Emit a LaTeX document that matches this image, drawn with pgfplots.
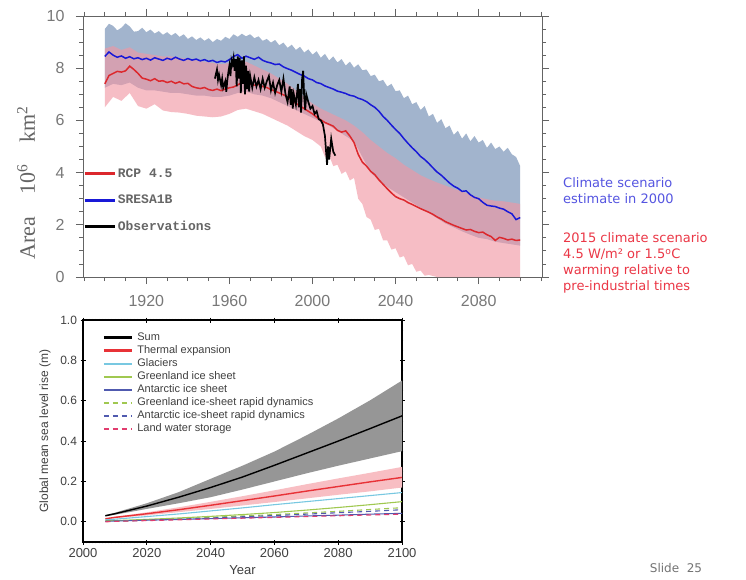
\documentclass[border=0pt]{standalone}
\usepackage{fontspec}
\setmainfont{Liberation Sans}
\newfontfamily\seriffont{Liberation Serif}
\newfontfamily\monofont{Liberation Mono}
\newfontfamily\dejavu{DejaVu Sans}
\usepackage{pgfplots}
\pgfplotsset{compat=1.18}
\usepackage{pgfplotstable}

\definecolor{sresband}{RGB}{162,180,205}
\definecolor{rcpband}{RGB}{242,150,163}
\definecolor{sresline}{RGB}{25,25,215}
\definecolor{rcpline}{RGB}{220,40,45}
\definecolor{axgray}{RGB}{100,100,100}
\definecolor{lblgray}{RGB}{120,120,120}
\definecolor{scnblue}{RGB}{85,85,225}
\definecolor{scnred}{RGB}{235,55,70}
\definecolor{sumband}{RGB}{150,150,150}
\definecolor{thline}{RGB}{232,50,55}
\definecolor{thband}{RGB}{248,190,195}
\definecolor{glc}{RGB}{120,200,225}
\definecolor{grc}{RGB}{160,200,80}
\definecolor{anc}{RGB}{80,90,175}
\definecolor{lwc}{RGB}{225,60,110}

% sea ice area, model means
\pgfplotstableread{
year sres rcp
1900 8.45 7.40
1902 8.62 7.72
1904 8.50 7.80
1906 8.42 7.88
1908 8.47 7.85
1910 8.38 7.90
1912 8.44 8.08
1914 8.36 7.95
1916 8.40 7.80
1918 8.33 7.62
1920 8.38 7.58
1922 8.31 7.52
1924 8.40 7.60
1926 8.35 7.50
1928 8.30 7.52
1930 8.38 7.45
1932 8.33 7.50
1934 8.42 7.42
1936 8.35 7.48
1938 8.30 7.40
1940 8.37 7.42
1942 8.31 7.30
1944 8.35 7.25
1946 8.28 7.22
1948 8.33 7.26
1950 8.26 7.18
1952 8.30 7.15
1954 8.22 7.20
1956 8.27 7.14
1958 8.24 7.20
1960 8.33 7.25
1962 8.45 7.28
1964 8.52 7.36
1966 8.38 7.45
1968 8.46 7.50
1970 8.40 7.40
1972 8.34 7.35
1974 8.42 7.38
1976 8.30 7.30
1978 8.24 7.26
1980 8.20 7.18
1982 8.14 7.12
1984 8.16 7.05
1986 8.05 6.98
1988 7.98 6.90
1990 7.92 6.78
1992 7.84 6.65
1994 7.76 6.55
1996 7.70 6.45
1998 7.60 6.35
2000 7.55 6.25
2002 7.45 6.12
2004 7.41 6.02
2006 7.32 5.92
2008 7.26 5.85
2010 7.20 5.78
2012 7.12 5.62
2014 7.08 5.55
2016 7.03 5.60
2018 6.96 5.40
2020 6.93 5.15
2022 6.85 4.70
2024 6.80 4.40
2026 6.72 4.25
2028 6.60 4.05
2030 6.50 3.92
2032 6.35 3.72
2034 6.15 3.55
2036 6.00 3.38
2038 5.82 3.22
2040 5.65 3.08
2042 5.50 3.00
2044 5.30 2.95
2046 5.12 2.85
2048 4.95 2.78
2050 4.80 2.70
2052 4.62 2.62
2054 4.50 2.55
2056 4.35 2.48
2058 4.18 2.40
2060 4.02 2.30
2062 3.90 2.22
2064 3.75 2.12
2066 3.60 2.05
2068 3.48 1.98
2070 3.40 1.92
2072 3.28 1.86
2074 3.30 1.80
2076 3.15 1.82
2078 3.05 1.75
2080 3.00 1.70
2082 2.86 1.72
2084 2.75 1.62
2086 2.72 1.55
2088 2.70 1.40
2090 2.64 1.52
2092 2.60 1.48
2094 2.50 1.42
2096 2.42 1.45
2098 2.20 1.40
2100 2.28 1.42
}\icelines

% SRES A1B spread: upper edge forward, lower edge back
\pgfplotstableread{
x y
1900 9.50
1902 9.70
1904 9.62
1906 9.45
1908 9.55
1910 9.72
1912 9.60
1914 9.40
1916 9.42
1918 9.55
1920 9.38
1922 9.48
1924 9.33
1926 9.42
1928 9.28
1930 9.38
1932 9.25
1934 9.35
1936 9.20
1938 9.30
1940 9.12
1942 9.22
1944 9.08
1946 9.18
1948 9.05
1950 9.15
1952 9.00
1954 9.12
1956 9.05
1958 9.20
1960 9.12
1962 9.30
1964 9.20
1966 9.32
1968 9.22
1970 9.30
1972 9.15
1974 9.22
1976 9.05
1978 9.12
1980 8.98
1982 9.08
1984 8.88
1986 8.98
1988 8.78
1990 8.90
1992 8.70
1994 8.82
1996 8.60
1998 8.72
2000 8.52
2002 8.65
2004 8.40
2006 8.55
2008 8.30
2010 8.45
2012 8.22
2014 8.35
2016 8.10
2018 8.25
2020 8.02
2022 8.15
2024 7.92
2026 7.95
2028 7.70
2030 7.75
2032 7.50
2034 7.55
2036 7.30
2038 7.40
2040 7.12
2042 7.15
2044 6.85
2046 6.95
2048 6.62
2050 6.70
2052 6.40
2054 6.55
2056 6.15
2058 6.25
2060 5.90
2062 6.05
2064 5.70
2066 5.80
2068 5.45
2070 5.60
2072 5.30
2074 5.50
2076 5.20
2078 5.40
2080 5.15
2082 5.25
2084 4.95
2086 5.15
2088 4.90
2090 5.00
2092 4.80
2094 4.95
2096 4.70
2098 4.60
2100 4.25
2100 1.20
2096 1.25
2092 1.30
2088 1.35
2084 1.45
2080 1.50
2076 1.62
2072 1.75
2068 1.90
2064 2.05
2060 2.25
2056 2.45
2052 2.65
2048 2.85
2044 3.05
2040 3.25
2036 3.45
2032 3.70
2028 4.00
2024 4.60
2020 5.20
2016 5.40
2012 5.60
2008 5.80
2004 5.95
2000 6.10
1996 6.25
1992 6.40
1988 6.55
1984 6.70
1980 6.85
1976 6.95
1972 7.00
1968 7.10
1964 7.05
1960 6.95
1956 6.90
1952 6.90
1948 6.95
1944 6.95
1940 7.00
1936 7.05
1932 7.05
1928 7.10
1924 7.15
1920 7.15
1916 7.25
1912 7.45
1908 7.35
1904 7.40
1900 7.25
}\sresspread

% RCP 4.5 spread
\pgfplotstableread{
x y
1900 8.75
1904 8.85
1908 8.70
1912 8.80
1916 8.60
1920 8.55
1924 8.50
1928 8.45
1932 8.45
1936 8.40
1940 8.35
1944 8.30
1948 8.25
1952 8.20
1956 8.15
1960 8.20
1964 8.25
1968 8.25
1972 8.10
1976 7.95
1980 7.80
1984 7.60
1988 7.40
1992 7.15
1996 6.90
2000 6.65
2004 6.45
2008 6.30
2012 6.15
2016 6.00
2020 5.80
2024 5.55
2028 5.25
2032 5.00
2036 4.75
2040 4.55
2044 4.30
2048 4.10
2052 3.90
2056 3.75
2060 3.62
2064 3.50
2068 3.38
2072 3.28
2076 3.15
2080 3.05
2084 2.98
2088 2.92
2092 2.90
2096 2.85
2100 2.80
2100 0.00
2060 0.00
2056 0.08
2054 0.05
2052 0.25
2050 0.20
2048 0.50
2046 0.45
2044 0.80
2042 0.75
2040 1.10
2038 1.05
2036 1.40
2034 1.40
2032 1.85
2030 1.80
2028 2.20
2026 2.30
2024 2.80
2022 3.00
2020 3.80
2018 3.70
2016 4.05
2014 3.95
2012 4.30
2010 4.25
2008 4.65
2006 4.60
2004 5.00
2000 5.25
1996 5.40
1992 5.60
1988 5.80
1984 5.95
1980 6.10
1976 6.25
1972 6.35
1968 6.45
1964 6.40
1960 6.25
1956 6.15
1952 6.12
1948 6.15
1944 6.18
1940 6.25
1936 6.30
1932 6.32
1928 6.38
1924 6.62
1920 6.45
1916 6.55
1912 7.05
1908 6.75
1904 6.90
1900 6.50
}\rcpspread

\pgfplotstableread{
year obs
1953.0 7.60
1954.0 7.95
1954.5 7.55
1955.0 7.75
1956.0 7.35
1956.5 7.60
1957.0 7.25
1958.0 7.50
1958.5 7.10
1959.0 7.55
1959.5 7.85
1960.0 8.10
1960.5 7.70
1961.0 8.30
1961.5 8.15
1962.0 8.40
1962.5 7.90
1963.0 8.35
1963.5 7.30
1964.0 8.45
1964.5 7.60
1965.0 8.40
1965.5 7.05
1966.0 8.30
1966.5 7.40
1967.0 8.45
1967.5 7.00
1968.0 8.10
1968.5 7.20
1969.0 7.90
1969.5 7.10
1970.0 7.70
1971.0 7.25
1972.0 7.65
1973.0 7.30
1974.0 7.55
1975.0 7.20
1976.0 7.60
1977.0 7.25
1978.0 7.50
1979.0 7.70
1980.0 7.15
1981.0 7.45
1982.0 7.05
1983.0 7.35
1984.0 7.55
1985.0 7.10
1986.0 7.60
1987.0 7.00
1988.0 6.70
1989.0 7.30
1989.5 6.60
1990.0 7.20
1990.5 6.45
1991.0 7.00
1992.0 6.60
1993.0 7.40
1993.5 6.50
1994.0 7.20
1994.5 6.30
1995.0 7.60
1995.5 7.90
1996.0 6.90
1996.5 6.40
1997.0 7.00
1998.0 6.70
1999.0 6.45
2000.0 6.55
2001.0 6.25
2002.0 6.35
2003.0 6.05
2004.0 6.00
2005.0 5.85
2006.0 5.40
2007.0 4.30
2007.5 5.00
2008.0 4.50
2009.0 5.30
2010.0 4.80
2011.0 4.65
}\iceobs

% sea level rise components (m)
\pgfplotstableread{
year sum th gl gr an grd ard lw
2007 0.030 0.015 0.010 0.005 0.003 0.002 0.002 0.000
2010 0.040 0.022 0.013 0.006 0.004 0.003 0.003 0.002
2020 0.078 0.040 0.026 0.012 0.008 0.009 0.008 0.006
2030 0.122 0.060 0.039 0.019 0.012 0.015 0.013 0.010
2040 0.170 0.082 0.054 0.027 0.016 0.022 0.019 0.014
2050 0.222 0.105 0.069 0.036 0.020 0.029 0.025 0.018
2060 0.280 0.128 0.085 0.046 0.024 0.036 0.031 0.022
2070 0.340 0.152 0.100 0.058 0.029 0.044 0.038 0.026
2080 0.400 0.175 0.115 0.071 0.033 0.052 0.045 0.030
2090 0.462 0.198 0.130 0.085 0.038 0.061 0.052 0.034
2100 0.525 0.220 0.145 0.100 0.042 0.070 0.060 0.038
}\slr

\pgfplotstableread{
x y
2007 0.034
2010 0.045
2020 0.092
2030 0.147
2040 0.213
2050 0.278
2060 0.348
2070 0.428
2080 0.512
2090 0.602
2100 0.700
2100 0.350
2090 0.314
2080 0.278
2070 0.240
2060 0.200
2050 0.160
2040 0.122
2030 0.092
2020 0.064
2010 0.035
2007 0.027
}\sumspread

\pgfplotstableread{
x y
2007 0.017
2010 0.025
2020 0.047
2030 0.072
2040 0.099
2050 0.127
2060 0.156
2070 0.186
2080 0.215
2090 0.243
2100 0.272
2100 0.170
2090 0.151
2080 0.134
2070 0.116
2060 0.098
2050 0.081
2040 0.064
2030 0.048
2020 0.032
2010 0.018
2007 0.013
}\thspread

\begin{document}
\begin{tikzpicture}
\path[fill=white] (0pt,0pt) rectangle (746pt,579pt);

% ---- sea ice area ----
\begin{axis}[
  at={(83pt,302pt)}, anchor=south west, scale only axis,
  width=459pt, height=261pt,
  xmin=1889.5, xmax=2110.5, ymin=0, ymax=10,
  xtick={1920,1960,2000,2040,2080},
  minor xtick={1890,1900,...,2110},
  ytick={0,2,...,10}, minor y tick num=3,
  tick align=outside, major tick length=7pt, minor tick length=4pt,
  axis line style={draw=axgray, line width=0.9pt},
  every tick/.style={draw=axgray, line width=0.9pt},
  /pgf/number format/assume math mode=true,
  /pgf/number format/1000 sep={},
  tick label style={font=\fontsize{16}{16}\selectfont, text=lblgray},
  x tick label style={yshift=-8pt},
  y tick label style={xshift=-8pt},
  ylabel={Area\quad 10\textsuperscript{6}\quad km\textsuperscript{2}},
  ylabel style={font=\seriffont\fontsize{22}{22}\selectfont, text=axgray,
    at={(axis description cs:-0.124,0.36)}, anchor=center},
  legend cell align=left,
  legend image code/.code={\draw[#1, line width=2.6pt] (0pt,0pt) -- (30pt,0pt);},
  legend style={draw=none, fill=none, at={(0,0.425)}, anchor=north west,
    inner sep=0pt, row sep=11.5pt, column sep=1pt,
    font=\monofont\bfseries\fontsize{13}{13}\selectfont, text=black!60,
    nodes={inner sep=1pt, text height=10pt, text depth=3pt}},
]
\addplot[fill=sresband, draw=none, forget plot] table[x=x,y=y]{\sresspread};
\addplot[fill=rcpband, fill opacity=0.62, draw=none, forget plot] table[x=x,y=y]{\rcpspread};
\addplot[rcpline, line width=1.5pt] table[x=year,y=rcp]{\icelines};
\addlegendentry{RCP 4.5}
\addplot[sresline, line width=1.5pt] table[x=year,y=sres]{\icelines};
\addlegendentry{SRESA1B}
\addplot[black, line width=1.7pt] table[x=year,y=obs]{\iceobs};
\addlegendentry{Observations}
\end{axis}

% ---- sea level rise ----
\begin{axis}[
  at={(83pt,37pt)}, anchor=south west, scale only axis,
  width=319pt, height=222pt,
  xmin=2000, xmax=2100, ymin=-0.1, ymax=1.0,
  xtick={2000,2020,...,2100}, minor x tick num=19,
  ytick={0,0.2,...,1.0}, minor y tick num=3,
  tick align=center, major tick length=5pt, minor tick length=2.5pt,
  axis line style={draw=black, line width=1.3pt},
  every tick/.style={draw=black, line width=0.8pt},
  /pgf/number format/assume math mode=true,
  /pgf/number format/1000 sep={},
  x tick label style={font=\fontsize{13}{13}\selectfont, text=black!75},
  y tick label style={font=\fontsize{12}{12}\selectfont, text=black!75,
    /pgf/number format/.cd, fixed, fixed zerofill, precision=1},
  xlabel={Year},
  xlabel style={font=\fontsize{13}{13}\selectfont, text=black!75,
    at={(axis description cs:0.5,-0.126)}, anchor=center},
  ylabel={Global mean sea level rise (m)},
  ylabel style={font=\fontsize{12}{12}\selectfont, text=black!75,
    at={(axis description cs:-0.119,0.5)}, anchor=center},
  legend cell align=left,
  legend image code/.code={\draw[#1] (0pt,0pt) -- (28pt,0pt);},
  legend style={draw=none, fill=none, at={(0.06,0.95)}, anchor=north west,
    inner sep=0pt, row sep=0.5pt, column sep=3pt,
    font=\fontsize{11}{11}\selectfont, text=black!75,
    nodes={inner sep=1pt, text height=8pt, text depth=2.5pt}},
]
\addplot[fill=sumband, draw=none, forget plot] table[x=x,y=y]{\sumspread};
\addplot[fill=thband, draw=none, forget plot] table[x=x,y=y]{\thspread};
\addplot[black, line width=1.4pt, legend image post style={line width=3pt}] table[x=year,y=sum]{\slr};
\addlegendentry{Sum}
\addplot[thline, line width=1.4pt, legend image post style={line width=3pt}] table[x=year,y=th]{\slr};
\addlegendentry{Thermal expansion}
\addplot[glc, line width=1.1pt, legend image post style={line width=2pt}] table[x=year,y=gl]{\slr};
\addlegendentry{Glaciers}
\addplot[grc, line width=1.1pt, legend image post style={line width=2pt}] table[x=year,y=gr]{\slr};
\addlegendentry{Greenland ice sheet}
\addplot[anc, line width=1.1pt, legend image post style={line width=2pt}] table[x=year,y=an]{\slr};
\addlegendentry{Antarctic ice sheet}
\addplot[grc, line width=1.1pt, dash pattern=on 5pt off 4pt, legend image post style={line width=2pt}] table[x=year,y=grd]{\slr};
\addlegendentry{Greenland ice-sheet rapid dynamics}
\addplot[anc, line width=1.1pt, dash pattern=on 5pt off 4pt, legend image post style={line width=2pt}] table[x=year,y=ard]{\slr};
\addlegendentry{Antarctic ice-sheet rapid dynamics}
\addplot[lwc, line width=1.1pt, dash pattern=on 5pt off 4pt, legend image post style={line width=2pt}] table[x=year,y=lw]{\slr};
\addlegendentry{Land water storage}
\end{axis}

\node[anchor=north west, align=left, inner sep=0pt, text=scnblue,
  font=\dejavu\fontsize{13}{16}\selectfont] at (563pt,402pt)
  {Climate scenario\\estimate in 2000};
\node[anchor=north west, align=left, inner sep=0pt, text=scnred,
  font=\dejavu\fontsize{13}{16.3}\selectfont] at (563pt,347pt)
  {2015 climate scenario\\4.5 W/m² or 1.5\textsuperscript{o}C\\warming relative to\\pre-industrial times};
\node[text=black!55, font=\dejavu\fontsize{12}{12}\selectfont] at (676pt,11pt) {Slide\ \ 25};
\end{tikzpicture}
\end{document}
